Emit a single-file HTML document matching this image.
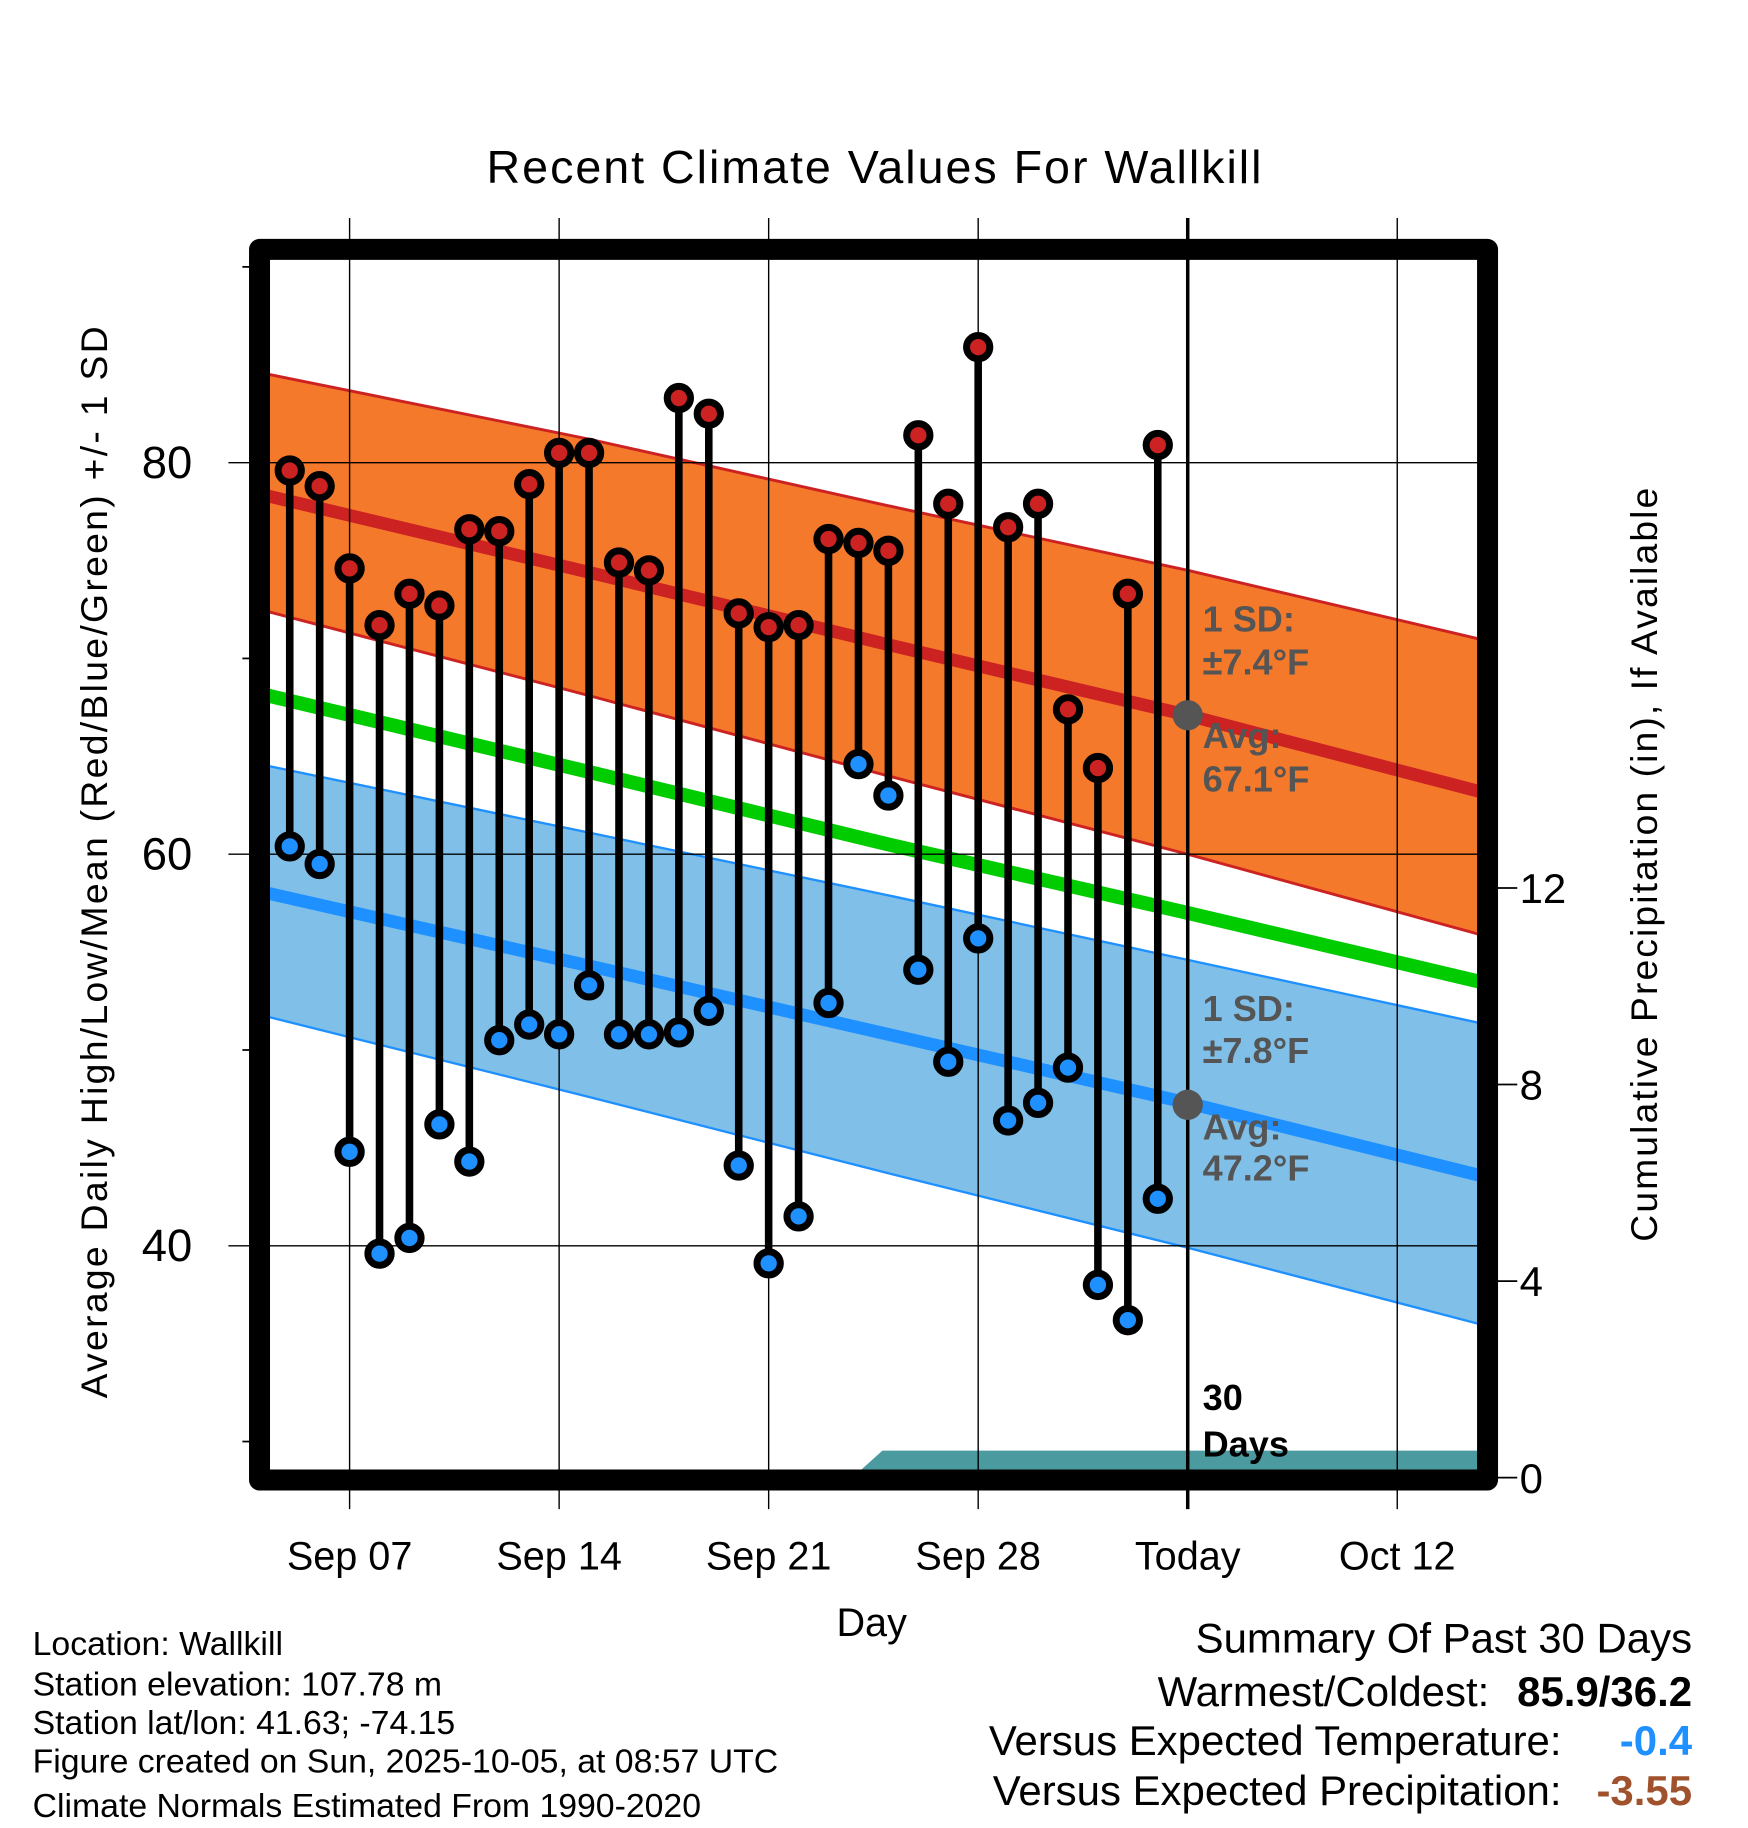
<!DOCTYPE html>
<html><head><meta charset="utf-8"><title>Recent Climate Values For Wallkill</title>
<style>html,body{margin:0;padding:0;background:#fff}svg{display:block}text{font-family:"Liberation Sans",sans-serif}</style>
</head><body>
<svg id="chart" xmlns="http://www.w3.org/2000/svg" width="1748" height="1828" viewBox="0 0 1500 1568.6">
<defs><clipPath id="plotclip"><rect x="231.7" y="223" width="1036.3" height="1039"/></clipPath></defs>
<g id="bands" clip-path="url(#plotclip)"></g>
<g id="grid"></g>
<g id="marks"></g>
<g id="labels"></g>
<rect x="222.7" y="214" width="1053.8" height="1056" fill="none" stroke="#000" stroke-width="18" stroke-linejoin="round"/>
<text x="750" y="157" font-size="40" text-anchor="middle" textLength="665">Recent Climate Values For Wallkill</text>
<text transform="translate(92,740) rotate(-90)" font-size="32" text-anchor="middle" textLength="920">Average Daily High/Low/Mean (Red/Blue/Green) +/- 1 SD</text>
<text transform="translate(1422,742) rotate(-90)" font-size="32" text-anchor="middle" textLength="647">Cumulative Precipitation (in), If Available</text>
<text x="748" y="1404" font-size="34" text-anchor="middle">Day</text>
<g font-size="29">
<text x="28" y="1420">Location: Wallkill</text>
<text x="28" y="1455">Station elevation: 107.78 m</text>
<text x="28" y="1488">Station lat/lon: 41.63; -74.15</text>
<text x="28" y="1521">Figure created on Sun, 2025-10-05, at 08:57 UTC</text>
<text x="28" y="1559">Climate Normals Estimated From 1990-2020</text>
</g>
<g font-size="36">
<text x="1452" y="1418" text-anchor="end">Summary Of Past 30 Days</text>
<text x="1278" y="1464" text-anchor="end">Warmest/Coldest:</text>
<text x="1452" y="1464" text-anchor="end" font-weight="bold">85.9/36.2</text>
<text x="1340" y="1506" text-anchor="end">Versus Expected Temperature:</text>
<text x="1452" y="1506" text-anchor="end" font-weight="bold" fill="#1e90ff">-0.4</text>
<text x="1340" y="1549" text-anchor="end">Versus Expected Precipitation:</text>
<text x="1452" y="1549" text-anchor="end" font-weight="bold" fill="#a0522d">-3.55</text>
</g>
</svg>
<script>
// Data (day index 0 = Sep 05)
const highs = [79.6,78.8,74.6,71.7,73.3,72.7,76.6,76.5,78.9,80.5,80.5,74.9,74.5,83.3,82.5,72.3,71.6,71.7,76.1,75.9,75.5,81.4,77.9,85.9,76.7,77.9,67.4,64.4,73.3,80.9];
const lows = [60.4,59.5,44.8,39.6,40.4,46.2,44.3,50.5,51.3,50.8,53.3,50.8,50.8,50.9,52.0,44.1,39.1,41.5,52.4,64.6,63.0,54.1,49.4,55.7,46.4,47.3,49.1,38.0,36.2,42.4];
const normDays = [-1,10,20,30,40];
const highNorm = [78.4,74.4,70.7,67.1,63.1];
const highUpper = [84.6,81.2,77.8,74.5,70.9];
const highLower = [72.5,68.1,64.0,60.0,55.8];
const lowNorm = [58.1,54.3,50.8,47.3,43.5];
const lowUpper = [64.6,61.1,57.9,54.6,51.3];
const lowLower = [51.8,47.6,43.7,39.9,35.9];
const meanNorm = [68.2,64.2,60.5,57.0,53.4];
const precipDays = [-1,18.8,19.8,40];
const precipVals = [0,0,0.55,0.55];
const xTickDays = [2,9,16,23,30,37];
const xTickLabels = ["Sep 07","Sep 14","Sep 21","Sep 28","Today","Oct 12"];
const yTicks = [80,60,40];
const yMinorTicks = [90,70,50,30];
const pTicks = [0,4,8,12];
const todayIdx = 30;
const todayHighAvg = 67.1, todayLowAvg = 47.2;

const NS = "http://www.w3.org/2000/svg";
function xs(d){ return 300 + (d-2)*25.686; }
function ys(t){ return 397 + (80-t)*16.8; }
function yp(p){ return 1268 - p*42.17; }
function mk(tag, attrs, parent){ const e=document.createElementNS(NS,tag); for(const k in attrs) e.setAttribute(k,attrs[k]); parent.appendChild(e); return e; }
function pts(days, vals, fy){ return days.map((d,i)=>xs(d).toFixed(1)+","+fy(vals[i]).toFixed(1)); }

const bands=document.getElementById('bands'), grid=document.getElementById('grid'), marks=document.getElementById('marks'), labels=document.getElementById('labels');

let e;
e = mk('polygon',{points: pts(normDays,highUpper,ys).concat(pts(normDays,highLower,ys).reverse()).join(' '), fill:'#f4792b', stroke:'#cc2222','stroke-width':2.5}, bands);


e = mk('polygon',{points: pts(normDays,lowUpper,ys).concat(pts(normDays,lowLower,ys).reverse()).join(' '), fill:'#80c0e8', stroke:'#1e90ff','stroke-width':2}, bands);


e = mk('polyline',{points: pts(normDays,highNorm,ys).join(' '), fill:'none', stroke:'#cc2222','stroke-width':11}, bands);


e = mk('polyline',{points: pts(normDays,lowNorm,ys).join(' '), fill:'none', stroke:'#1e90ff','stroke-width':11}, bands);


e = mk('polyline',{points: pts(normDays,meanNorm,ys).join(' '), fill:'none', stroke:'#00cc00','stroke-width':12}, bands);


const pp = pts(precipDays,precipVals,yp); pp.push(xs(precipDays[precipDays.length-1]).toFixed(1)+","+yp(0)); pp.push(xs(precipDays[0]).toFixed(1)+","+yp(0));
e = mk('polygon',{points: pp.join(' '), fill:'#4a9aa0'}, bands);



// grid
xTickDays.forEach((d,i)=>{
  const isToday = d===todayIdx;
  e = mk('line',{x1:xs(d),x2:xs(d),y1:187,y2:1295,stroke:'#000','stroke-width':isToday?3:1.2}, grid);
  
  
  e = mk('text',{x:xs(d),y:1347,'font-size':34,'text-anchor':'middle'}, labels);
  e.textContent = xTickLabels[i];
  
  
});
yTicks.forEach(t=>{
  e = mk('line',{x1:196,x2:1268,y1:ys(t),y2:ys(t),stroke:'#000','stroke-width':1.2}, grid);
  
  
  e = mk('text',{x:165,y:ys(t)+13,'font-size':39,'text-anchor':'end'}, labels);
  e.textContent = String(t);
  
  
});
yMinorTicks.forEach(t=>{
  e = mk('line',{x1:208,x2:220,y1:ys(t),y2:ys(t),stroke:'#000','stroke-width':1.5}, grid);
  
  
});
pTicks.forEach(p=>{
  e = mk('line',{x1:1280,x2:1302,y1:yp(p),y2:yp(p),stroke:'#000','stroke-width':1.5}, grid);
  
  
  e = mk('text',{x:1304,y:yp(p)+13,'font-size':36}, labels);
  e.textContent = String(p);
  
  
});

// stems and markers
highs.forEach((h,i)=>{
  const x=xs(i);
  e = mk('line',{x1:x,x2:x,y1:ys(h),y2:ys(lows[i]),stroke:'#000','stroke-width':6.5}, marks);
  
  
});
highs.forEach((h,i)=>{
  e = mk('circle',{cx:xs(i),cy:ys(h),r:10,fill:'#cc2222',stroke:'#000','stroke-width':6}, marks);
  
  
  e = mk('circle',{cx:xs(i),cy:ys(lows[i]),r:10,fill:'#1e90ff',stroke:'#000','stroke-width':6}, marks);
  
  
});
e = mk('circle',{cx:xs(todayIdx),cy:ys(todayHighAvg),r:13,fill:'#555'}, marks);


e = mk('circle',{cx:xs(todayIdx),cy:ys(todayLowAvg),r:13,fill:'#555'}, marks);



// annotations
const ann = [["1 SD:",542,'#555'],["±7.4°F",579,'#555'],["Avg:",642,'#555'],["67.1°F",679,'#555'],
             ["1 SD:",876,'#555'],["±7.8°F",912,'#555'],["Avg:",978,'#555'],["47.2°F",1013,'#555'],
             ["30",1210,'#000'],["Days",1250,'#000']];
ann.forEach(a=>{
  e = mk('text',{x:1032,y:a[1],'font-size':31,'font-weight':'bold',fill:a[2]}, labels);
  e.textContent=a[0];
  
  
});
</script>
</body></html>
